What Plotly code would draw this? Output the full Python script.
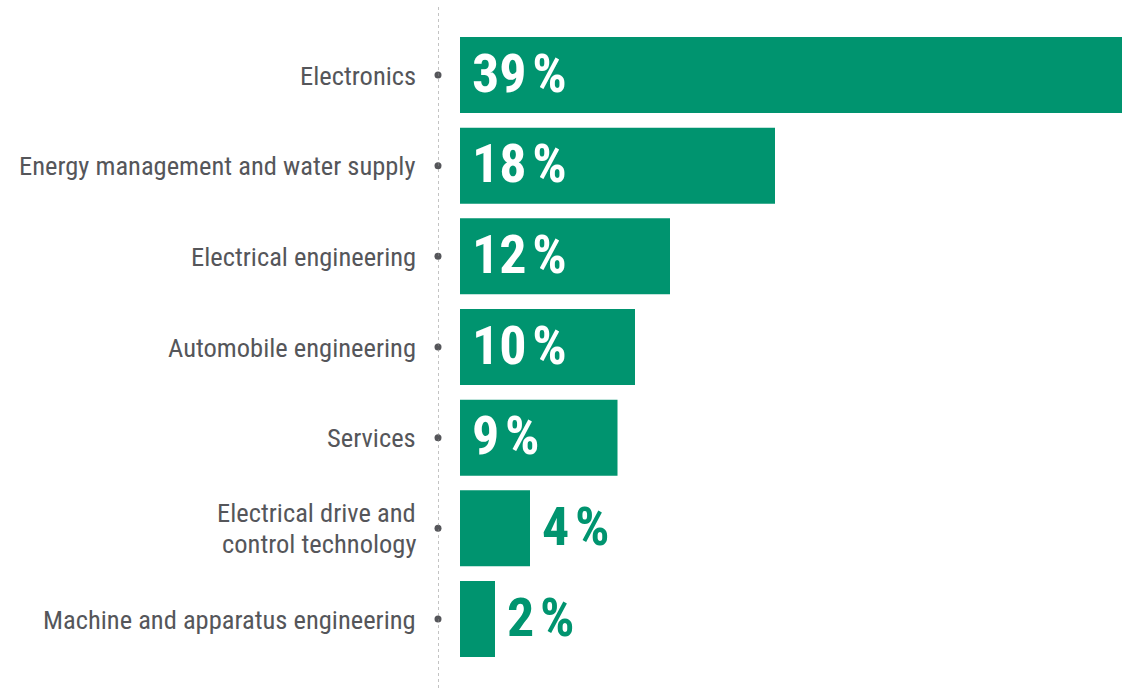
import plotly.graph_objects as go

categories = [
    "Electronics",
    "Energy management and water supply",
    "Electrical engineering",
    "Automobile engineering",
    "Services",
    "Electrical drive and<br>control technology",
    "Machine and apparatus engineering",
]
shares = [39, 18, 12, 10, 9, 4, 2]
share_labels = ["39", "18", "12", "10", "9", "4", "2"]

GREEN = "#00946F"
GRAY = "#55565A"
FONT = "Roboto Condensed, DejaVu Sans Condensed, sans-serif"

PX_PER = 17.5
x_left = -22 / PX_PER
x_right = x_left + 684 / PX_PER

fig = go.Figure()
fig.add_trace(go.Bar(
    x=shares, y=categories, orientation="h",
    marker=dict(color=GREEN, line=dict(width=0)),
    width=0.838, hoverinfo="skip",
))
fig.add_trace(go.Scatter(
    x=[x_left] * len(categories), y=categories, mode="markers",
    marker=dict(color=GRAY, size=7), cliponaxis=False, hoverinfo="skip",
))

for cat, v, lab in zip(categories, shares, share_labels):
    inside = v >= 5
    fig.add_annotation(
        x=0 if inside else v, y=cat, xref="x", yref="y",
        text="<b>" + lab + "\u200a%</b>", showarrow=False,
        xanchor="left", yanchor="middle", xshift=10, yshift=2,
        font=dict(family=FONT, size=54, color="white" if inside else GREEN),
    )
    # category label (lines placed individually for tight line spacing)
    lines = cat.split("<br>")
    n = len(lines)
    for i, ln in enumerate(lines):
        fig.add_annotation(
            x=0, y=cat, xref="paper", yref="y", text=ln, showarrow=False,
            xanchor="right", yanchor="middle", xshift=-21, borderpad=0,
            yshift=((n - 1) / 2 - i) * 31,
            font=dict(family=FONT, size=26.5, color=GRAY),
        )

fig.add_shape(type="line", xref="x", yref="paper", x0=x_left, x1=x_left, y0=0, y1=1,
              line=dict(color="#888888", width=1, dash="dot"))

fig.update_layout(
    width=1122, height=688,
    margin=dict(l=438, r=0, t=6, b=0),
    paper_bgcolor="white", plot_bgcolor="white",
    showlegend=False,
    xaxis=dict(range=[x_left, x_right], visible=False, fixedrange=True),
    yaxis=dict(
        categoryorder="array", categoryarray=categories,
        range=[6.761, -0.761], automargin=False, fixedrange=True,
        showgrid=False, zeroline=False, showline=False,
        ticks="", showticklabels=False,
    ),
)

fig.write_html("out.html", config={"displayModeBar": False},
               post_script="document.body.style.margin='0';document.body.style.padding='0';")
